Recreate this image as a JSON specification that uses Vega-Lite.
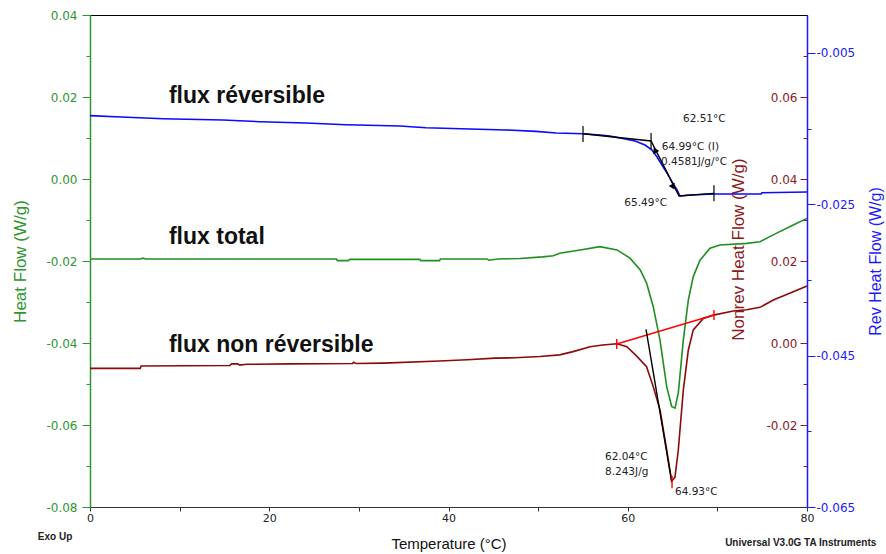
{
  "$schema": "https://vega.github.io/schema/vega-lite/v6.json",
  "width": 717,
  "height": 492,
  "autosize": {"type": "none"},
  "padding": {"left": 90, "top": 15, "right": 79, "bottom": 47},
  "background": "white",
  "config": {
    "view": {"stroke": "#000", "strokeWidth": 1},
    "axis": {"grid": false, "labelFont": "DejaVu Sans", "titleFont": "Liberation Sans", "titleFontWeight": "normal", "labelFontSize": 12, "titleFontSize": 17},
    "text": {"font": "Liberation Sans"}
  },
  "datasets": {
    "heat": [
      {"T": 0, "v": -0.0195}, {"T": 5.6, "v": -0.0195}, {"T": 5.9, "v": -0.0193}, {"T": 6.2, "v": -0.0195},
      {"T": 27.5, "v": -0.0195}, {"T": 27.6, "v": -0.0199}, {"T": 28.8, "v": -0.0199}, {"T": 29.0, "v": -0.0196},
      {"T": 36.8, "v": -0.0196}, {"T": 36.9, "v": -0.0199}, {"T": 39.0, "v": -0.0199}, {"T": 39.1, "v": -0.0195},
      {"T": 44.3, "v": -0.0195}, {"T": 44.5, "v": -0.0198}, {"T": 45.5, "v": -0.0195}, {"T": 48.0, "v": -0.0194},
      {"T": 50.5, "v": -0.0190}, {"T": 51.7, "v": -0.0187}, {"T": 52.4, "v": -0.0181}, {"T": 54.7, "v": -0.0173},
      {"T": 56.9, "v": -0.0165}, {"T": 58.8, "v": -0.0173}, {"T": 60.25, "v": -0.0193}, {"T": 61.4, "v": -0.0222},
      {"T": 62.1, "v": -0.0254}, {"T": 62.85, "v": -0.0312}, {"T": 63.6, "v": -0.0393}, {"T": 64.35, "v": -0.0507},
      {"T": 64.9, "v": -0.0555}, {"T": 65.27, "v": -0.0559}, {"T": 65.64, "v": -0.0522}, {"T": 66.2, "v": -0.0393},
      {"T": 66.76, "v": -0.0295}, {"T": 67.31, "v": -0.0238}, {"T": 68.06, "v": -0.0198}, {"T": 69.18, "v": -0.0169},
      {"T": 70.29, "v": -0.0161}, {"T": 73.27, "v": -0.0157}, {"T": 74.76, "v": -0.0153}, {"T": 76.62, "v": -0.0132},
      {"T": 78.47, "v": -0.0112}, {"T": 80, "v": -0.0096}
    ],
    "nonrev": [
      {"T": 0, "v": -0.0062}, {"T": 5.6, "v": -0.0062}, {"T": 5.7, "v": -0.0056}, {"T": 15.6, "v": -0.0055},
      {"T": 15.8, "v": -0.0051}, {"T": 16.5, "v": -0.0051}, {"T": 16.7, "v": -0.0054}, {"T": 17.5, "v": -0.0052},
      {"T": 22.3, "v": -0.0051}, {"T": 29.3, "v": -0.0050}, {"T": 29.4, "v": -0.0047}, {"T": 29.7, "v": -0.0050},
      {"T": 32.7, "v": -0.0049}, {"T": 39.0, "v": -0.0044}, {"T": 42.1, "v": -0.0041}, {"T": 45.2, "v": -0.0037},
      {"T": 47.4, "v": -0.0036}, {"T": 50.2, "v": -0.0033}, {"T": 52.4, "v": -0.0029}, {"T": 53.9, "v": -0.0021},
      {"T": 55.8, "v": -0.0009}, {"T": 57.2, "v": -0.0005}, {"T": 58.8, "v": -0.0002}, {"T": 59.9, "v": -0.0009},
      {"T": 61.0, "v": -0.0032}, {"T": 62.1, "v": -0.0058}, {"T": 62.85, "v": -0.0107}, {"T": 63.6, "v": -0.0163},
      {"T": 64.35, "v": -0.0261}, {"T": 64.9, "v": -0.0337}, {"T": 65.27, "v": -0.0327}, {"T": 65.64, "v": -0.0261},
      {"T": 66.2, "v": -0.0115}, {"T": 66.76, "v": -0.0017}, {"T": 67.31, "v": 0.0032}, {"T": 68.43, "v": 0.0060},
      {"T": 69.55, "v": 0.0068}, {"T": 71.78, "v": 0.0078}, {"T": 73.27, "v": 0.0081}, {"T": 74.76, "v": 0.0087},
      {"T": 76.24, "v": 0.0105}, {"T": 78.47, "v": 0.0125}, {"T": 80, "v": 0.0139}
    ],
    "rev": [
      {"T": 0, "v": -0.01330}, {"T": 3.46, "v": -0.01348}, {"T": 8.15, "v": -0.01370}, {"T": 14.84, "v": -0.01387},
      {"T": 18.97, "v": -0.01410}, {"T": 24.10, "v": -0.01427}, {"T": 28.56, "v": -0.01449}, {"T": 34.59, "v": -0.01467},
      {"T": 37.49, "v": -0.01489}, {"T": 42.40, "v": -0.01506}, {"T": 46.42, "v": -0.01519}, {"T": 49.76, "v": -0.01537},
      {"T": 51.99, "v": -0.01559}, {"T": 55.01, "v": -0.01568}, {"T": 56.90, "v": -0.01585}, {"T": 58.0, "v": -0.01600},
      {"T": 59.14, "v": -0.01625}, {"T": 60.81, "v": -0.01665}, {"T": 61.93, "v": -0.01718}, {"T": 62.71, "v": -0.01784},
      {"T": 63.27, "v": -0.01876}, {"T": 63.82, "v": -0.01982}, {"T": 64.38, "v": -0.02087}, {"T": 64.94, "v": -0.02206},
      {"T": 65.50, "v": -0.02312}, {"T": 65.83, "v": -0.02391}, {"T": 66.95, "v": -0.02378}, {"T": 69.62, "v": -0.02365},
      {"T": 74.87, "v": -0.02365}, {"T": 74.98, "v": -0.02348}, {"T": 80, "v": -0.02338}
    ],
    "revAnno": [
      {"T": 55.01, "v": -0.01568}, {"T": 62.6, "v": -0.01665}, {"T": 65.72, "v": -0.02391}, {"T": 69.62, "v": -0.02356}
    ],
    "revTicks": [
      {"T": 55.01, "v": -0.01466, "v2": -0.01678},
      {"T": 62.6, "v": -0.01559, "v2": -0.01771},
      {"T": 69.62, "v": -0.0225, "v2": -0.0246}
    ],
    "arrows": [
      {"T": 63.04, "v": -0.01784, "dir": "up"},
      {"T": 65.05, "v": -0.02272, "dir": "down"}
    ],
    "revText": [
      {"T": 66.16, "v": -0.01374, "t": "62.51°C"},
      {"T": 63.79, "v": -0.01748, "t": "64.99°C (I)"},
      {"T": 63.71, "v": -0.01938, "t": "0.4581J/g/°C"},
      {"T": 59.62, "v": -0.02480, "t": "65.49°C"}
    ],
    "nrBase": [{"T": 58.77, "v": -0.00024}, {"T": 69.62, "v": 0.00683}],
    "nrTan": [{"T": 62.04, "v": 0.00334}, {"T": 64.9, "v": -0.03383}],
    "nrTicks": [
      {"T": 58.77, "v": 0.00098, "v2": -0.00146},
      {"T": 69.62, "v": 0.00805, "v2": 0.00561},
      {"T": 64.94, "v": -0.0324, "v2": -0.0354}
    ],
    "nrText": [
      {"T": 57.46, "v": -0.02788, "t": "62.04°C"},
      {"T": 57.46, "v": -0.03139, "t": "8.243J/g"},
      {"T": 65.27, "v": -0.03641, "t": "64.93°C"}
    ],
    "labels": [
      {"T": 8.81, "v": 0.0185, "t": "flux réversible"},
      {"T": 8.81, "v": -0.0158, "t": "flux total"},
      {"T": 8.81, "v": -0.0422, "t": "flux non réversible"}
    ],
    "footer": [
      {"T": -3.9, "v": -0.0873, "t": "Exo Up"},
      {"T": 79.3, "v": -0.0888, "t": "Universal V3.0G TA Instruments"}
    ]
  },
  "encoding": {
    "x": {
      "field": "T", "type": "quantitative",
      "scale": {"domain": [0, 80], "nice": false, "zero": false},
      "axis": {
        "title": "Temperature (°C)", "values": [0, 10, 20, 30, 40, 50, 60, 70, 80],
        "labelExpr": "datum.value % 20 == 0 ? datum.label : ''",
        "labelFlush": false, "labelColor": "#222", "tickColor": "#333", "domainColor": "#333",
        "labelFontSize": 11, "tickSize": 4,
        "titleFontSize": 15, "titlePadding": 13, "labelPadding": 1, "titleColor": "#111"
      }
    }
  },
  "layer": [
    {
      "encoding": {
        "y": {"field": "v", "type": "quantitative", "scale": {"domain": [-0.08, 0.04], "nice": false, "zero": false},
          "axis": {"orient": "left", "title": "Heat Flow (W/g)", "titleColor": "#2e962e", "titlePadding": 16,
            "values": [-0.08, -0.07, -0.06, -0.05, -0.04, -0.03, -0.02, -0.01, 0, 0.01, 0.02, 0.03, 0.04],
            "labelExpr": "round(datum.value*100) % 2 == 0 ? replace(format(datum.value, '.2f'), '\u2212', '-') : ''",
            "tickSize": {"condition": {"test": "round(datum.value*100) % 2 == 0", "value": 8}, "value": 4},
            "labelColor": "#2e962e", "tickColor": "#2e962e", "domainColor": "#2e962e", "domainWidth": 1.5, "labelPadding": 5}}
      },
      "layer": [
        {
          "data": {"name": "heat"},
          "mark": {"type": "line", "color": "#1f8f1f", "strokeWidth": 1.6}
        },
        {
          "data": {"name": "labels"},
          "mark": {"type": "text", "align": "left", "baseline": "alphabetic", "fontSize": 23, "fontWeight": "bold", "color": "#111"},
          "encoding": {"text": {"field": "t"}}
        },
        {
          "data": {"name": "footer"},
          "mark": {"type": "text", "align": "center", "baseline": "middle", "fontSize": 10, "fontWeight": "bold", "color": "#222"},
          "encoding": {"text": {"field": "t"}}
        }
      ]
    },
    {
      "encoding": {
        "y": {"field": "v", "type": "quantitative", "scale": {"domain": [-0.04, 0.08], "nice": false, "zero": false},
          "axis": {"orient": "left", "offset": -717, "title": "Nonrev Heat Flow (W/g)", "titleColor": "#8b1a1a", "titlePadding": 18, "titleY": 234,
            "values": [-0.03, -0.02, -0.01, 0, 0.01, 0.02, 0.03, 0.04, 0.05, 0.06, 0.07],
            "labelExpr": "round(datum.value*100) % 2 == 0 ? replace(format(datum.value, '.2f'), '\u2212', '-') : ''",
            "tickSize": {"condition": {"test": "round(datum.value*100) % 2 == 0", "value": 7}, "value": 4},
            "labelColor": "#8b1a1a", "tickColor": "#8b1a1a", "domain": false, "labelPadding": 3}}
      },
      "layer": [
        {
          "data": {"name": "nonrev"},
          "mark": {"type": "line", "color": "#8b0a0a", "strokeWidth": 1.6}
        },
        {
          "data": {"name": "nrBase"},
          "mark": {"type": "line", "color": "#ff0000", "strokeWidth": 1.4}
        },
        {
          "data": {"name": "nrTan"},
          "mark": {"type": "line", "color": "#000000", "strokeWidth": 1.4}
        },
        {
          "data": {"name": "nrTicks"},
          "mark": {"type": "rule", "color": "#ff0000", "strokeWidth": 1.4},
          "encoding": {"y2": {"field": "v2"}}
        },
        {
          "data": {"name": "nrText"},
          "mark": {"type": "text", "align": "left", "baseline": "middle", "fontSize": 10.5, "font": "DejaVu Sans", "color": "#222"},
          "encoding": {"text": {"field": "t"}}
        }
      ]
    },
    {
      "encoding": {
        "y": {"field": "v", "type": "quantitative", "scale": {"domain": [-0.065, 0], "nice": false, "zero": false},
          "axis": {"orient": "right", "title": "Rev Heat Flow (W/g)", "titleColor": "#1a1aff", "titleFontSize": 16, "titlePadding": 13, "titleAngle": 270, "titleBaseline": "top",
            "values": [-0.065, -0.055, -0.045, -0.035, -0.025, -0.015, -0.005],
            "labelExpr": "round((datum.value+0.005)*1000) % 20 == 0 ? replace(format(datum.value, '.3f'), '\u2212', '-') : ''",
            "tickSize": {"condition": {"test": "round((datum.value+0.005)*1000) % 20 == 0", "value": 8}, "value": 4},
            "labelColor": "#1a1aff", "tickColor": "#1a1aff", "domainColor": "#1a1aff", "domainWidth": 1.5, "labelPadding": 1}}
      },
      "layer": [
        {
          "data": {"name": "rev"},
          "mark": {"type": "line", "color": "#0a0aff", "strokeWidth": 1.6}
        },
        {
          "data": {"name": "revAnno"},
          "mark": {"type": "line", "color": "#000000", "strokeWidth": 1.4}
        },
        {
          "data": {"name": "revTicks"},
          "mark": {"type": "rule", "color": "#000000", "strokeWidth": 1.2},
          "encoding": {"y2": {"field": "v2"}}
        },
        {
          "data": {"name": "arrows"},
          "transform": [{"filter": "datum.dir == 'up'"}],
          "mark": {"type": "point", "shape": "triangle-up", "angle": -27, "filled": true, "size": 45, "color": "#000", "opacity": 1}
        },
        {
          "data": {"name": "arrows"},
          "transform": [{"filter": "datum.dir == 'down'"}],
          "mark": {"type": "point", "shape": "triangle-down", "angle": -27, "filled": true, "size": 45, "color": "#000", "opacity": 1}
        },
        {
          "data": {"name": "revText"},
          "mark": {"type": "text", "align": "left", "baseline": "middle", "fontSize": 10.5, "font": "DejaVu Sans", "color": "#222"},
          "encoding": {"text": {"field": "t"}}
        }
      ]
    }
  ],
  "resolve": {"scale": {"y": "independent"}}
}
